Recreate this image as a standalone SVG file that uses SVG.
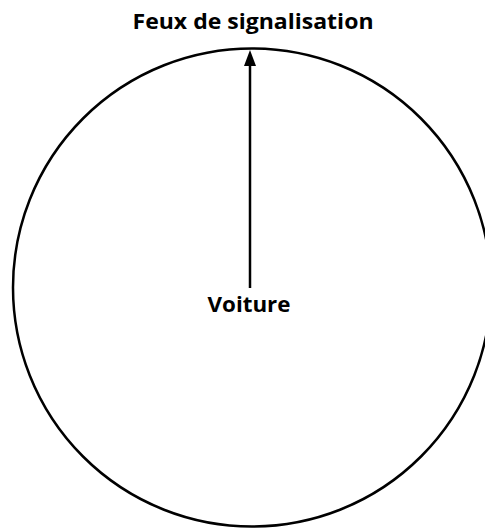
<svg xmlns="http://www.w3.org/2000/svg" width="485" height="529" viewBox="0 0 485 529">
<style>
.lbl{font-family:"Open Sans","Liberation Sans",sans-serif;font-weight:bold;font-size:22px;fill:#000;text-anchor:middle}
</style>
<defs>
<marker id="ah" markerWidth="8" markerHeight="8" refX="7" refY="4" orient="auto" markerUnits="userSpaceOnUse" viewBox="0 0 8 8">
<path d="M0,0 L8,4 L0,8 Z" fill="#000"/>
</marker>
</defs>
<rect width="485" height="529" fill="#fff"/>
<g id="circle">
<circle cx="252" cy="287.5" r="239" fill="none" stroke="#000" stroke-width="2.5"/>
</g>
<g id="connectors">
<line x1="250" y1="288" x2="250" y2="62" stroke="#000" stroke-width="2.5"/>
<path d="M244,66 L250,50 L256,66 Z" fill="#000"/>
</g>
<g id="feux">
<text class="lbl" x="253" y="29" textLength="241" lengthAdjust="spacingAndGlyphs">Feux de signalisation</text>
</g>
<g id="voiture">
<text class="lbl" x="249" y="312" textLength="83" lengthAdjust="spacingAndGlyphs">Voiture</text>
</g>
</svg>
